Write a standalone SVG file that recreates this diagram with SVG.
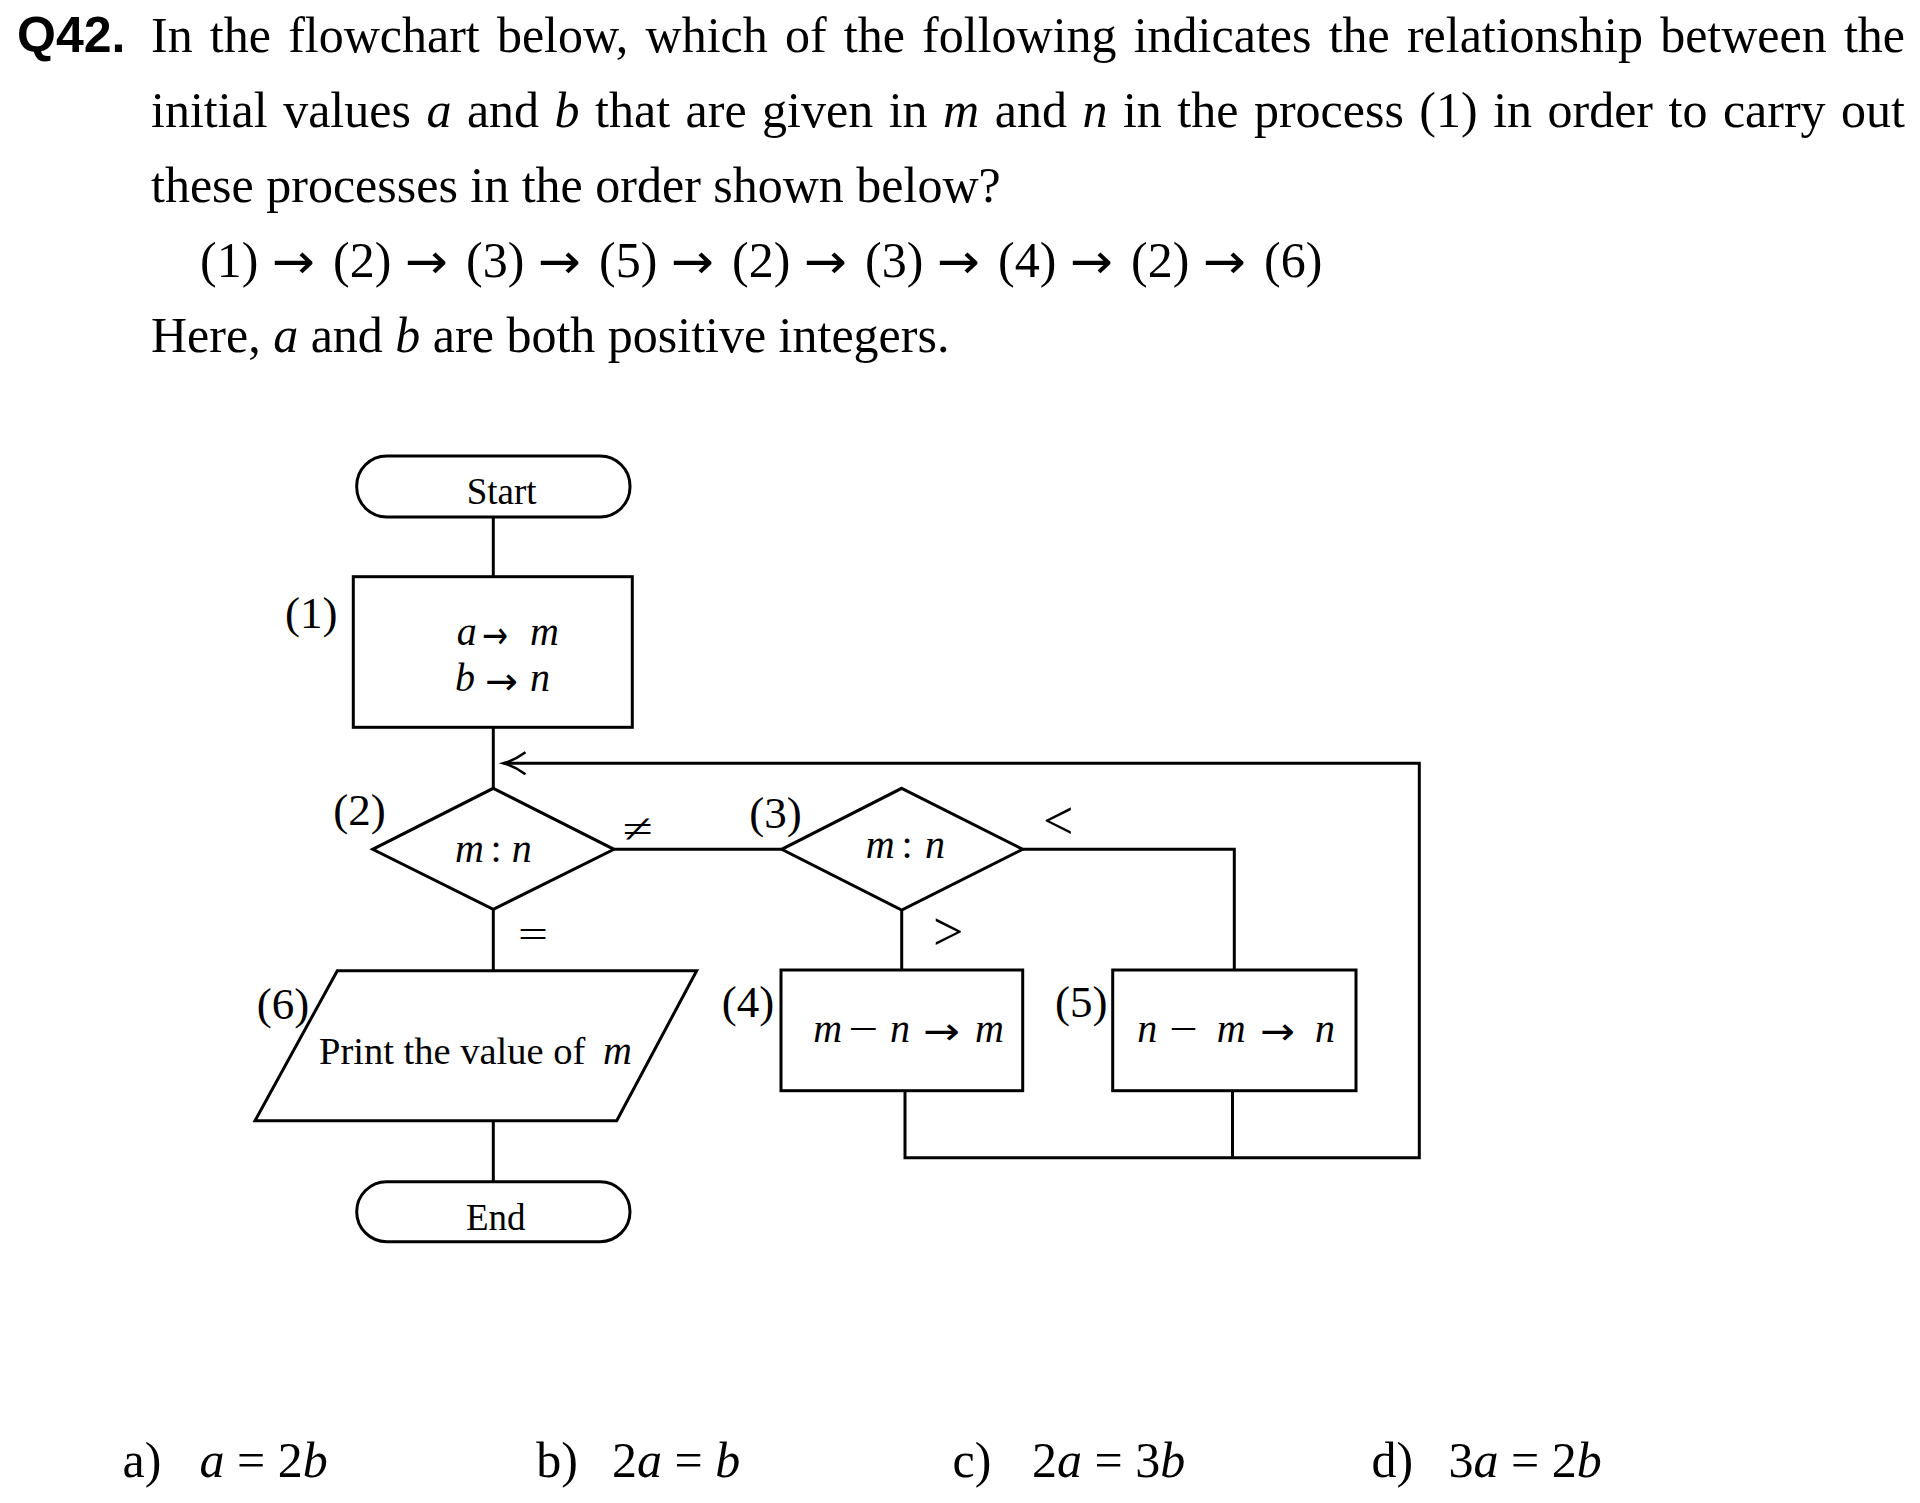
<svg xmlns="http://www.w3.org/2000/svg" width="1920" height="1503" viewBox="0 0 1920 1503">
<style>
.t{font-family:"Liberation Serif","Times New Roman",serif;fill:#000}
.i{font-style:italic}
.q{font-family:"Liberation Sans",Arial,sans-serif;font-weight:bold;fill:#000}
.ar{font-family:"DejaVu Sans",sans-serif;font-style:normal;fill:#000}
.ln{fill:none;stroke:#000;stroke-width:3;stroke-linejoin:miter}
.sh{fill:#fff;stroke:#000;stroke-width:3}
.body{font-size:50px}
.fc{font-size:40px}
.lb{font-size:45px}
.tm{font-size:37px}
.rel{font-size:54px}
</style>
<defs>
<marker id="open" markerWidth="30" markerHeight="30" refX="23" refY="12" orient="auto" markerUnits="userSpaceOnUse">
<path d="M1,1 Q12,9 23,12 Q12,15 1,23" fill="none" stroke="#000" stroke-width="2.6"/>
</marker>
</defs>
<rect width="1920" height="1503" fill="#fff"/>

<g id="question">
<text class="q" x="17" y="52" font-size="50">Q42.</text>
<text class="t body" x="151" y="52" word-spacing="4.7">In the flowchart below, which of the following indicates the relationship between the</text>
<text class="t body" x="151" y="127" word-spacing="3">initial values <tspan class="i">a</tspan> and <tspan class="i">b</tspan> that are given in <tspan class="i">m</tspan> and <tspan class="i">n</tspan> in the process (1) in order to carry out</text>
<text class="t body" x="151" y="202">these processes in the order shown below?</text>
<g class="t body">
<text x="200" y="277">(1)</text>
<text x="333" y="277">(2)</text>
<text x="466" y="277">(3)</text>
<text x="599" y="277">(5)</text>
<text x="732" y="277">(2)</text>
<text x="865" y="277">(3)</text>
<text x="998" y="277">(4)</text>
<text x="1131" y="277">(2)</text>
<text x="1264" y="277">(6)</text>
</g>
<g class="ar" font-size="49">
<text x="271.7" y="278" textLength="43" lengthAdjust="spacingAndGlyphs">→</text>
<text x="404.7" y="278" textLength="43" lengthAdjust="spacingAndGlyphs">→</text>
<text x="537.7" y="278" textLength="43" lengthAdjust="spacingAndGlyphs">→</text>
<text x="670.7" y="278" textLength="43" lengthAdjust="spacingAndGlyphs">→</text>
<text x="803.7" y="278" textLength="43" lengthAdjust="spacingAndGlyphs">→</text>
<text x="936.7" y="278" textLength="43" lengthAdjust="spacingAndGlyphs">→</text>
<text x="1069.7" y="278" textLength="43" lengthAdjust="spacingAndGlyphs">→</text>
<text x="1202.7" y="278" textLength="43" lengthAdjust="spacingAndGlyphs">→</text>
</g>
<text class="t body" x="151" y="352">Here, <tspan class="i">a</tspan> and <tspan class="i">b</tspan> are both positive integers.</text>
</g>

<g id="connectors">
<path class="ln" d="M493.3,517 V576.7"/>
<path class="ln" d="M493.3,727.3 V788.3"/>
<path class="ln" d="M493.3,909.3 V970.7"/>
<path class="ln" d="M493.3,1120.7 V1181.7"/>
<path class="ln" d="M614,849.3 H781.7"/>
<path class="ln" d="M901.7,910 V970"/>
<path class="ln" d="M1022.7,849.3 H1234.3 V970"/>
<path class="ln" d="M905,1090.7 V1157.7 H1419.3 V763.3 H503.5" marker-end="url(#open)"/>
<path class="ln" d="M1232.5,1090.7 V1157.7"/>
<g class="t fc">
<text x="623" y="842" textLength="30" lengthAdjust="spacingAndGlyphs">≠</text>
<text x="518" y="948" textLength="30" lengthAdjust="spacingAndGlyphs">=</text>
</g>
<g class="t rel">
<text x="1043" y="839">&lt;</text>
<text x="933" y="950">&gt;</text>
</g>
</g>

<g id="start">
<rect class="sh" x="356.7" y="456" width="273.3" height="61" rx="30" ry="30"/>
<text class="t tm" x="501.7" y="504" text-anchor="middle">Start</text>
</g>

<g id="p1">
<rect class="sh" x="353.3" y="576.7" width="279" height="150.6"/>
<text class="t lb" x="285" y="628">(1)</text>
<g class="t fc">
<text class="i" x="456.7" y="645">a</text>
<text class="i" x="530" y="645">m</text>
<text class="i" x="455" y="691">b</text>
<text class="i" x="530" y="691">n</text>
</g>
<g class="ar" font-size="38">
<text x="482" y="648" textLength="26" lengthAdjust="spacingAndGlyphs">→</text>
<text x="485" y="694" textLength="33" lengthAdjust="spacingAndGlyphs">→</text>
</g>
</g>

<g id="p2">
<path class="sh" d="M493.3,788.3 L614,849.3 L493.3,909.3 L372.7,849.3 Z"/>
<text class="t lb" x="333.3" y="825">(2)</text>
<g class="t fc">
<text class="i" x="455" y="862">m</text>
<text x="496" y="862" text-anchor="middle">:</text>
<text class="i" x="511.7" y="862">n</text>
</g>
</g>

<g id="p3">
<path class="sh" d="M901.7,788.3 L1022.7,849.3 L901.7,910 L781.7,849.3 Z"/>
<text class="t lb" x="749.3" y="828">(3)</text>
<g class="t fc">
<text class="i" x="865.7" y="858">m</text>
<text x="907" y="858" text-anchor="middle">:</text>
<text class="i" x="925" y="858">n</text>
</g>
</g>

<g id="p4">
<rect class="sh" x="781" y="970" width="241.7" height="120.7"/>
<text class="t lb" x="721.7" y="1017">(4)</text>
<g class="t fc">
<text class="i" x="813.3" y="1042">m</text>
<text x="848.3" y="1042" textLength="30" lengthAdjust="spacingAndGlyphs">−</text>
<text class="i" x="890" y="1042">n</text>
<text class="i" x="975" y="1042">m</text>
</g>
<text class="ar" font-size="38" x="923" y="1044" textLength="37" lengthAdjust="spacingAndGlyphs">→</text>
</g>

<g id="p5">
<rect class="sh" x="1112.7" y="970" width="243.3" height="120.7"/>
<text class="t lb" x="1055" y="1017">(5)</text>
<g class="t fc">
<text class="i" x="1137.3" y="1042">n</text>
<text x="1169.3" y="1042" textLength="28.4" lengthAdjust="spacingAndGlyphs">−</text>
<text class="i" x="1216.7" y="1042">m</text>
<text class="i" x="1315" y="1042">n</text>
</g>
<text class="ar" font-size="38" x="1260" y="1044" textLength="35" lengthAdjust="spacingAndGlyphs">→</text>
</g>

<g id="p6">
<path class="sh" d="M337.3,970.7 H696.7 L616.7,1120.7 H255 Z"/>
<text class="t lb" x="256.7" y="1019">(6)</text>
<text class="t" font-size="38.5" x="319" y="1064">Print the value of</text>
<text class="t fc i" x="603" y="1064">m</text>
</g>

<g id="end">
<rect class="sh" x="356.7" y="1181.7" width="273.3" height="60" rx="30" ry="30"/>
<text class="t tm" x="495.8" y="1230" text-anchor="middle">End</text>
</g>

<g id="answers" class="t body">
<text x="122.5" y="1477">a)</text>
<text x="199.6" y="1477"><tspan class="i">a</tspan> = 2<tspan class="i">b</tspan></text>
<text x="536.3" y="1477">b)</text>
<text x="612" y="1477">2<tspan class="i">a</tspan> = <tspan class="i">b</tspan></text>
<text x="952.6" y="1477">c)</text>
<text x="1032" y="1477">2<tspan class="i">a</tspan> = 3<tspan class="i">b</tspan></text>
<text x="1371.4" y="1477">d)</text>
<text x="1448.6" y="1477">3<tspan class="i">a</tspan> = 2<tspan class="i">b</tspan></text>
</g>
</svg>
